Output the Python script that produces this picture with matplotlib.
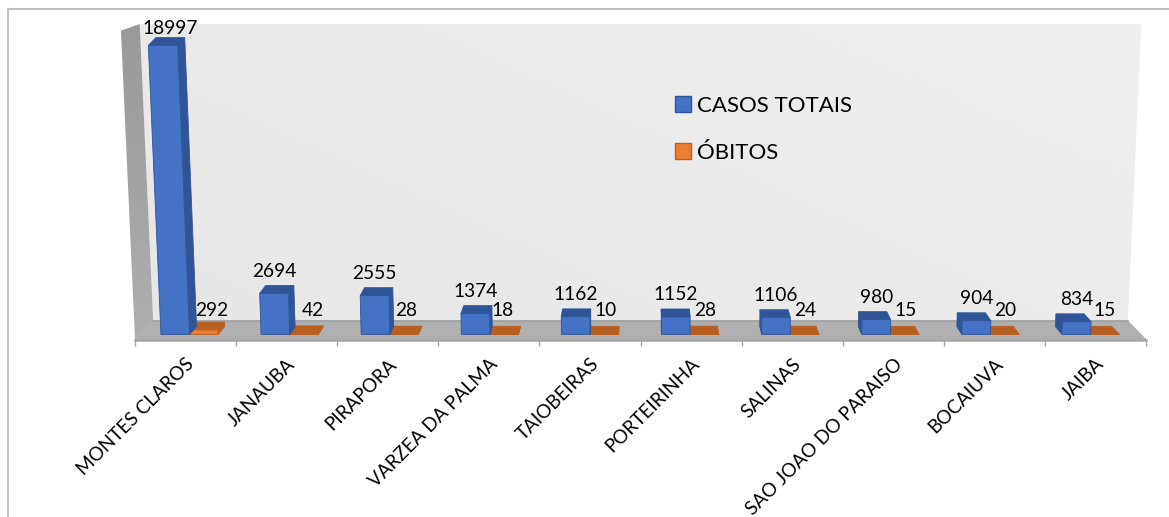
import numpy as np
import matplotlib
matplotlib.use('Agg')
from matplotlib import pyplot as plt
from matplotlib.lines import Line2D
from matplotlib.patches import Patch, Polygon

plt.rcParams['font.family'] = ['Lato', 'DejaVu Sans']

cidades = ['MONTES CLAROS', 'JANAUBA', 'PIRAPORA', 'VARZEA DA PALMA', 'TAIOBEIRAS',
           'PORTEIRINHA', 'SALINAS', 'SAO JOAO DO PARAISO', 'BOCAIUVA', 'JAIBA']
casos = [18997, 2694, 2555, 1374, 1162, 1152, 1106, 980, 904, 834]
obitos = [292, 42, 28, 18, 10, 28, 24, 15, 20, 15]

# nudges (pixels) for the obitos labels, excel puts them a bit off the bar
obitos_label_dx = [12, 12, 4, 0, 1, 0, -1, -2, -3, -5]

W, H = 1169, 517
PX = 289.0 / 18997       # pixels per case
FLOOR = 18.5             # floor depth in pixels
BASE_D = 0.27            # depth where the bars stand
BAR_D = 0.43             # bar depth
BAR_W = 0.2855
WALL_TOP = 19522
YLIM = (-5.5 / PX, 310.5 / PX)


def proj(x, v, d):
    # fake excel 3d: category, value, depth -> axes data coords
    s = 1 - 0.036 * d + v * 1.37e-6
    return 5 + (x - 5) * s, v + (d - BASE_D) * FLOOR / PX


def face(ax, pts, color, z, edge=None):
    ax.add_patch(Polygon([proj(*p) for p in pts], closed=True, facecolor=color,
                         edgecolor=edge or color, linewidth=0.6, zorder=z, clip_on=False))


def bar3d(ax, x0, v, front, side, top, z):
    x1 = x0 + BAR_W
    d0, d1 = BASE_D, BASE_D + BAR_D
    if x0 + BAR_W / 2 < 5:
        face(ax, [(x1, 0, d0), (x1, 0, d1), (x1, v, d1), (x1, v, d0)], side, z)
    else:
        face(ax, [(x0, 0, d0), (x0, 0, d1), (x0, v, d1), (x0, v, d0)], side, z)
    face(ax, [(x0, v, d0), (x1, v, d0), (x1, v, d1), (x0, v, d1)], top, z + 0.1)
    face(ax, [(x0, 0, d0), (x1, 0, d0), (x1, v, d0), (x0, v, d0)], front, z + 0.2, edge=side)


fig = plt.figure(figsize=(W / 100, H / 100), dpi=100)
ax = fig.add_axes([135 / W, (H - 340) / H, (1146 - 135) / W, (340 - 24) / H])
for s in ['top', 'left', 'right']:
    ax.spines[s].set_visible(False)
ax.spines['bottom'].set_color('#a6a6a6')
ax.spines['bottom'].set_linewidth(1.8)
ax.set_yticks([])

# back wall, soft gradient a bit lighter to the top right
wall = Polygon([proj(0, WALL_TOP, 1), proj(10, WALL_TOP, 1), proj(10, 0, 1), proj(0, 0, 1)],
               closed=True, transform=ax.transData, facecolor='none', edgecolor='none')
ax.add_patch(wall)
gx, gy = np.meshgrid(np.linspace(0, 1, 300), np.linspace(0, 1, 150))
grad = 0.902 + 0.035 * (0.6 * gx + 0.4 * gy)
im = ax.imshow(grad, cmap='gray', vmin=0, vmax=1, origin='lower', aspect='auto',
               extent=[0, 10, 0, WALL_TOP + (1 - BASE_D) * FLOOR / PX], zorder=0)
im.set_clip_path(wall)

# side wall, darker at the top. sticks out of the axes so clip box is the figure
side = Polygon([proj(0, 0, 0), proj(0, 0, 1), proj(0, WALL_TOP, 1), proj(0, 20300, 0)],
               closed=True, transform=ax.transData, facecolor='none', edgecolor='none',
               clip_on=False)
ax.add_patch(side)
sg = np.linspace(0.68, 0.60, 100).reshape(-1, 1)
im2 = ax.imshow(sg, cmap='gray', vmin=0, vmax=1, origin='lower', aspect='auto',
                extent=[-0.2, 0.25, YLIM[0], YLIM[1]], zorder=1)
im2.set_clip_path(side)
im2.set_clip_box(fig.bbox)

ax.set_xlim(0, 10)
ax.set_ylim(*YLIM)

face(ax, [(0, 0, 0), (10, 0, 0), (10, 0, 1), (0, 0, 1)], '#b0b0b0', 1.2)
ax.plot([proj(0, 0, 1)[0], proj(10, 0, 1)[0]], [proj(0, 0, 1)[1], proj(10, 0, 1)[1]],
        color='#a0a0a0', lw=1.2, zorder=1.5)

for i, (c, o) in enumerate(zip(casos, obitos)):
    bar3d(ax, i + 0.21, c, '#4472c4', '#2f5597', '#2f5597', 3)
    bar3d(ax, i + 0.21 + BAR_W, o, '#ed7d31', '#b85f22', '#b85f22', 2)

    # top of the bar, data label sits about 22px above it
    cx, cy = proj(i + 0.21 + BAR_W / 2, c, BASE_D)
    label_y = min(cy + 22.5 / PX, 306 / PX)
    dx = 7 if i == 0 else 0
    ax.annotate(str(c), (cx, label_y), xytext=(dx * 0.72, 0), textcoords='offset points',
                ha='center', va='center', fontsize=13.8, color='black', zorder=6,
                annotation_clip=False)
    ax.annotate(str(o), (i + 0.64, 23.5 / PX), xytext=(obitos_label_dx[i] * 0.72, 0),
                textcoords='offset points', ha='center', va='center', fontsize=13.8,
                color='black', zorder=6, annotation_clip=False)

ax.set_xticks(range(11))
ax.set_xticklabels([])
ax.tick_params(axis='x', which='major', length=4.5, width=1, color='#a6a6a6')
ax.set_xticks(np.arange(10) + 0.5, minor=True)
ax.set_xticklabels(cidades, minor=True, rotation=45, ha='right', rotation_mode='anchor',
                   fontsize=13.6)
ax.tick_params(axis='x', which='minor', length=0, pad=11)

handles = [Patch(facecolor='#4472c4', edgecolor='#2f5597', label='CASOS TOTAIS'),
           Patch(facecolor='#ed7d31', edgecolor='#b85f22', label='ÓBITOS')]
leg = ax.legend(handles=handles, loc='upper left', bbox_to_anchor=(675 / W, (H - 96) / H),
                bbox_transform=fig.transFigure, frameon=False, fontsize=16,
                handlelength=0.72, handleheight=0.72, handletextpad=0.28,
                labelspacing=1.2, borderpad=0, borderaxespad=0)
leg.set_zorder(7)

# picture frame around the chart
fig.add_artist(Line2D([8 / W, 8 / W], [0, (H - 9) / H], color='#c4c4c4', lw=1.5))
fig.add_artist(Line2D([8 / W, 1], [(H - 9) / H, (H - 9) / H], color='#c0c0c0', lw=1.5))

fig.savefig('out.png', dpi=100)
